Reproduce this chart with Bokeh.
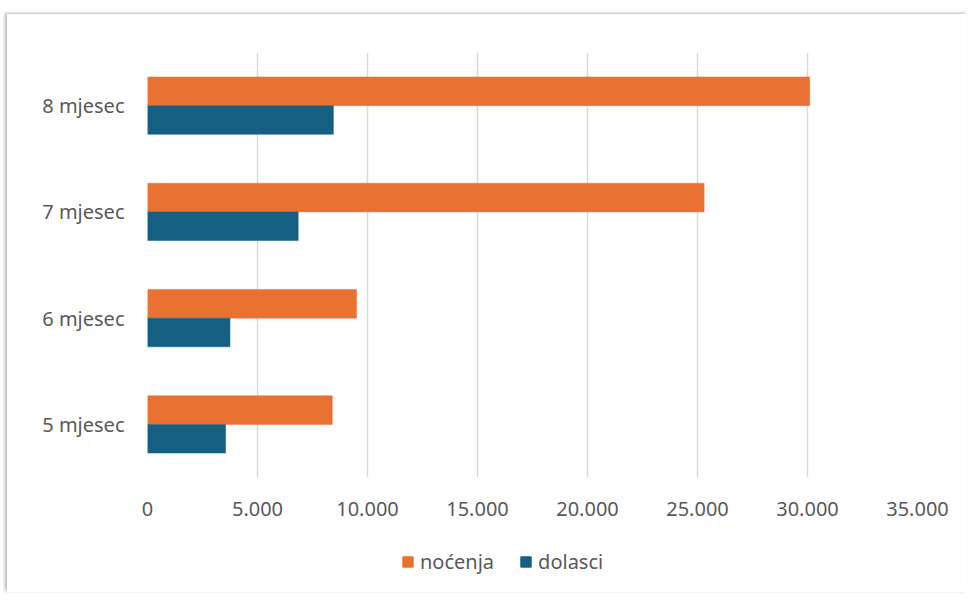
from bokeh.plotting import figure
from bokeh.layouts import column
from bokeh.models import Range1d, FactorRange, FixedTicker, Legend, LegendItem, ColumnDataSource
from bokeh.transform import dodge
from bokeh.embed import file_html
from bokeh.resources import INLINE

categories = ["5 mjesec", "6 mjesec", "7 mjesec", "8 mjesec"]
nocenja = [8400, 9500, 25300, 30100]
dolasci = [3550, 3750, 6850, 8450]
x_ticks = [0, 5000, 10000, 15000, 20000, 25000, 30000, 35000]
x_tick_labels = ["0", "5.000", "10.000", "15.000", "20.000", "25.000", "30.000", "35.000"]
series_names = ["noćenja", "dolasci"]

ORANGE = "#E97132"
BLUE = "#156082"
GRAY_TXT = "#595959"
FONT = "Noto Sans"

source = ColumnDataSource(dict(cat=categories, nocenja=nocenja, dolasci=dolasci))

p = figure(width=960, height=516, output_backend="svg", toolbar_location=None,
           y_range=FactorRange(factors=categories), x_range=Range1d(0, 35000),
           min_border_left=140, min_border_right=50, min_border_top=38, min_border_bottom=53)
p.outline_line_color = None
p.background_fill_color = "white"
p.border_fill_color = "white"

p.hbar(y=dodge("cat", 0.135, range=p.y_range), right="nocenja", left=0, height=0.27,
       source=source, fill_color=ORANGE, line_color=ORANGE, line_width=0.5)
p.hbar(y=dodge("cat", -0.135, range=p.y_range), right="dolasci", left=0, height=0.27,
       source=source, fill_color=BLUE, line_color=BLUE, line_width=0.5)

p.xaxis.ticker = FixedTicker(ticks=x_ticks)
p.xaxis.major_label_overrides = {t: l for t, l in zip(x_ticks, x_tick_labels)}
for ax in (p.xaxis, p.yaxis):
    ax.axis_line_color = None
    ax.major_tick_line_color = None
    ax.minor_tick_line_color = None
    ax.major_label_text_color = GRAY_TXT
    ax.major_label_text_font = FONT
    ax.major_label_text_font_size = "20px"
p.xaxis.major_label_standoff = 18
p.yaxis.major_label_standoff = 17

p.xgrid.grid_line_color = "#d9d9d9"
p.xgrid.grid_line_width = 1.5
p.ygrid.grid_line_color = None

# legend strip
lg = figure(width=960, height=62, output_backend="svg", toolbar_location=None,
            x_range=Range1d(0, 1), y_range=Range1d(0, 1),
            min_border_left=0, min_border_right=0, min_border_top=0, min_border_bottom=0)
lg.axis.visible = False
lg.grid.visible = False
lg.outline_line_color = None
lg.border_fill_color = "white"
d1 = lg.vbar(x=[-10], top=[-10], bottom=[-11], width=0.1, fill_color=ORANGE, line_color=ORANGE)
d2 = lg.vbar(x=[-10], top=[-10], bottom=[-11], width=0.1, fill_color=BLUE, line_color=BLUE)

legend = Legend(items=[LegendItem(label=series_names[0], renderers=[d1]),
                       LegendItem(label=series_names[1], renderers=[d2])],
                orientation="horizontal", location=(254, 17),
                label_text_font=FONT, label_text_font_size="20px", label_text_color=GRAY_TXT,
                glyph_width=13, glyph_height=13, spacing=25, label_standoff=6,
                border_line_color=None, background_fill_alpha=0, padding=4)
lg.add_layout(legend, "center")

layout = column(p, lg, spacing=0)
layout.styles = {"margin-left": "7px", "margin-top": "14px",
                 "box-shadow": "-2px -1px 3px rgba(0,0,0,0.28)"}

open("out.html", "w").write(file_html(layout, INLINE))
